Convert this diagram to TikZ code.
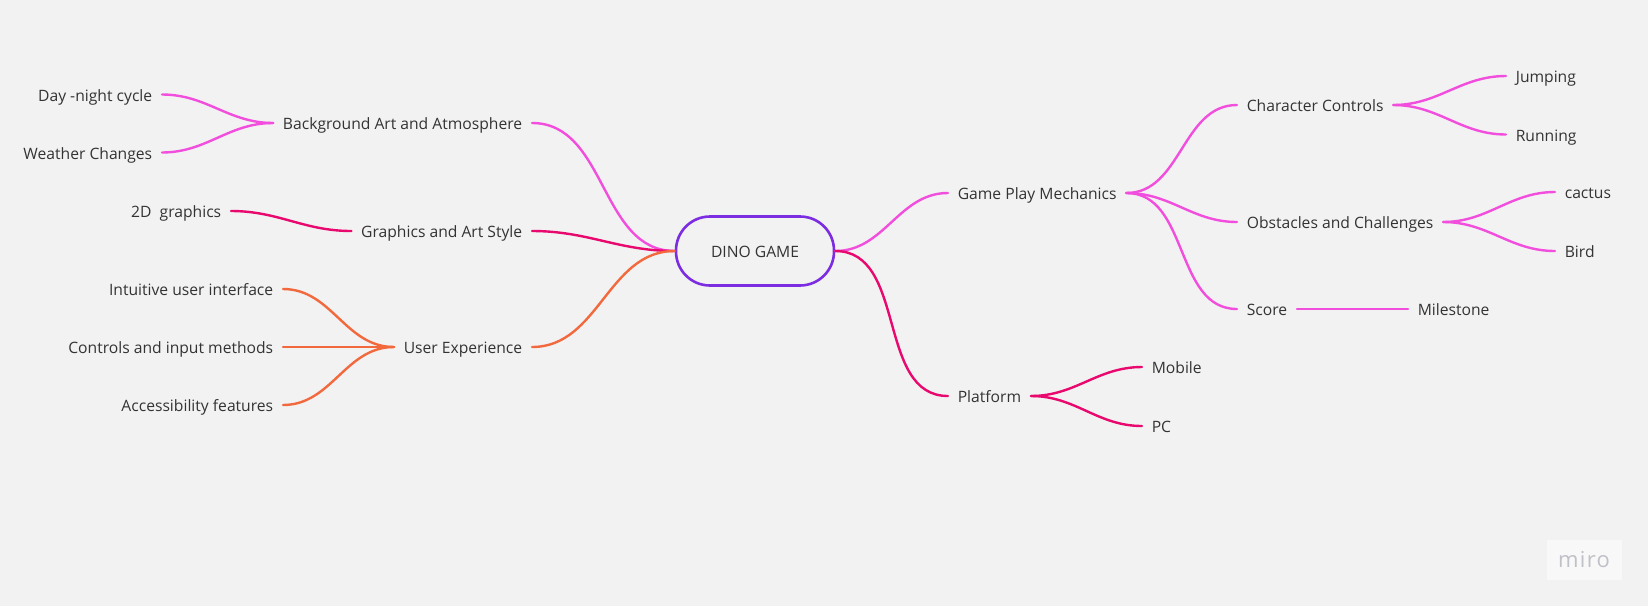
\documentclass[tikz,border=0pt]{standalone}
\usepackage{fontspec}
\setmainfont{Open Sans}
\usetikzlibrary{positioning}

\definecolor{paper}{RGB}{242,242,242}
\definecolor{ink}{RGB}{51,51,51}
\definecolor{hubline}{RGB}{125,45,225}
\definecolor{pinkline}{RGB}{242,78,222}
\definecolor{redline}{RGB}{232,8,110}
\definecolor{orangeline}{RGB}{242,105,62}
\definecolor{logogray}{RGB}{192,192,200}

\begin{document}
\begin{tikzpicture}[x=0.5pt, y=-0.5pt]
    % Styles
    \tikzset{
        topic/.style = {font=\fontsize{7.83}{9}\selectfont, text=ink, inner xsep=4.7pt, inner ysep=0pt, text height=1.34ex, text depth=0.12ex},
        hub/.style = {topic, draw=hubline, line width=1.3pt, rounded corners=17pt, minimum width=79pt, minimum height=34.5pt},
        link/.style = {line width=1.2pt, line cap=round},
        toleft/.style = {out=180, in=0},
        toright/.style = {out=0, in=180}
    }

    % Canvas
    \fill[paper] (0,0) rectangle (1648,606);
    \useasboundingbox (0,0) rectangle (1648,606);

    % Centre
    \node[hub] (dino) at (755,251) {DINO GAME};

    % Left topics
    \node[topic, anchor=east] (bgart) at (532,123) {Background Art and Atmosphere};
    \node[topic, anchor=east] (gfx) at (532,231) {Graphics and Art Style};
    \node[topic, anchor=east] (ux) at (532,347) {User Experience};

    \node[topic, anchor=east] (daynight) at (162,94.5) {Day -night cycle};
    \node[topic, anchor=east] (weather) at (162,152.5) {Weather Changes};
    \node[topic, anchor=east] (twod) at (231,211) {2D~~graphics};
    \node[topic, anchor=east] (intuitive) at (283,289) {Intuitive user interface};
    \node[topic, anchor=east] (inputs) at (283,347) {Controls and input methods};
    \node[topic, anchor=east] (access) at (283,405) {Accessibility features};

    % Right topics
    \node[topic, anchor=west] (gameplay) at (948,193) {Game Play Mechanics};
    \node[topic, anchor=west] (platform) at (948,396) {Platform};

    \node[topic, anchor=west] (charctl) at (1237,105) {Character Controls};
    \node[topic, anchor=west] (obstacles) at (1237,222) {Obstacles and Challenges};
    \node[topic, anchor=west] (score) at (1237,309) {Score};
    \node[topic, anchor=west] (mobile) at (1142,367) {Mobile};
    \node[topic, anchor=west] (pc) at (1142,426) {PC};

    \node[topic, anchor=west] (jumping) at (1506,76) {Jumping};
    \node[topic, anchor=west] (running) at (1506,134.5) {Running};
    \node[topic, anchor=west] (cactus) at (1555,192) {cactus};
    \node[topic, anchor=west] (bird) at (1555,251) {Bird};
    \node[topic, anchor=west] (milestone) at (1408,309) {Milestone};

    % Left links
    \draw[link, pinkline] (dino.west) to[toleft] (bgart.east);
    \draw[link, redline] (dino.west) to[toleft] (gfx.east);
    \draw[link, orangeline] (dino.west) to[toleft] (ux.east);
    \draw[link, pinkline] (bgart.west) to[toleft] (daynight.east);
    \draw[link, pinkline] (bgart.west) to[toleft] (weather.east);
    \draw[link, redline] (gfx.west) to[toleft] (twod.east);
    \draw[link, orangeline] (ux.west) to[toleft] (intuitive.east);
    \draw[link, orangeline] (ux.west) -- (inputs.east);
    \draw[link, orangeline] (ux.west) to[toleft] (access.east);

    % Right links
    \draw[link, pinkline] (dino.east) to[toright] (gameplay.west);
    \draw[link, redline] (dino.east) to[toright] (platform.west);
    \draw[link, pinkline] (gameplay.east) to[toright] (charctl.west);
    \draw[link, pinkline] (gameplay.east) to[toright] (obstacles.west);
    \draw[link, pinkline] (gameplay.east) to[toright] (score.west);
    \draw[link, pinkline] (charctl.east) to[toright] (jumping.west);
    \draw[link, pinkline] (charctl.east) to[toright] (running.west);
    \draw[link, pinkline] (obstacles.east) to[toright] (cactus.west);
    \draw[link, pinkline] (obstacles.east) to[toright] (bird.west);
    \draw[link, pinkline] (score.east) -- (milestone.west);
    \draw[link, redline] (platform.east) to[toright] (mobile.west);
    \draw[link, redline] (platform.east) to[toright] (pc.west);

    % Watermark
    \node[fill=white!45!paper, minimum width=37.5pt, minimum height=20pt, text=logogray, font=\fontsize{11}{12}\selectfont\addfontfeatures{LetterSpace=6}] (logo) at (1584,560) {miro};
\end{tikzpicture}
\end{document}
